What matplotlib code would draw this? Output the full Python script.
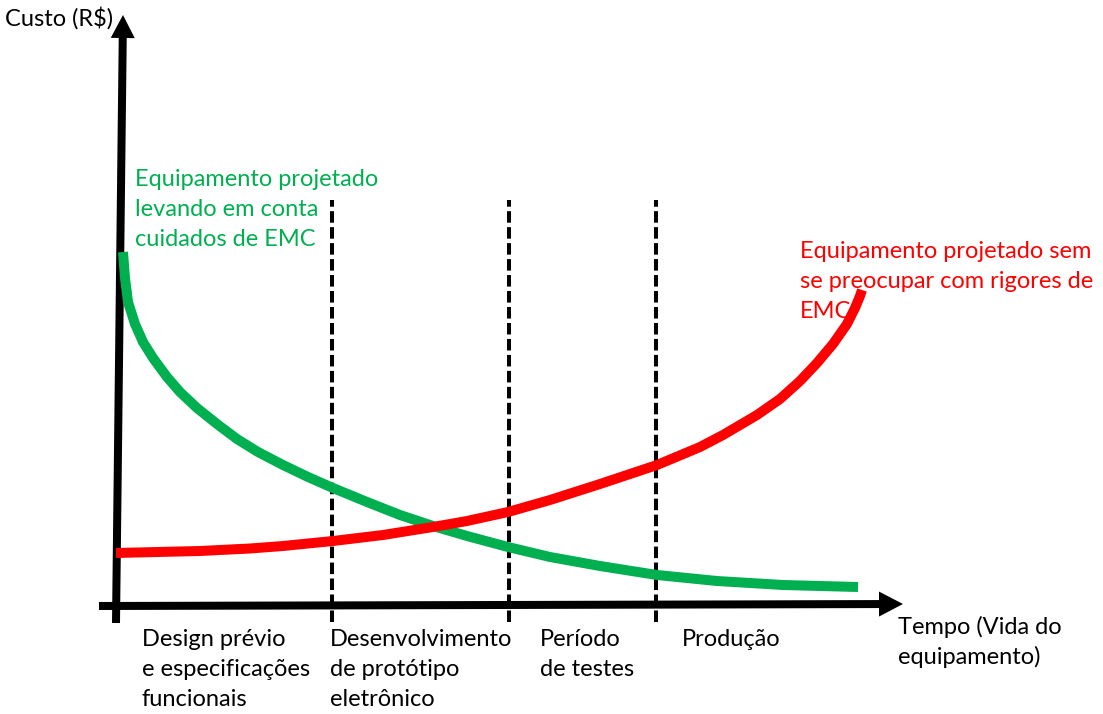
import matplotlib
matplotlib.use("Agg")
from matplotlib import pyplot as plt

plt.rcParams['font.family'] = ['Lato', 'DejaVu Sans']
plt.rcParams['lines.scale_dashes'] = False

GREEN = '#00B050'
RED = '#FF0000'

# curve with EMC care (time, cost) - origin at axes crossing
green_t = [5, 7, 10, 17, 25, 35, 49, 62, 79, 99, 119, 140, 165, 190, 215, 249, 282,
           315, 349, 390, 432, 482, 539, 599, 665, 740]
green_c = [353, 327, 303, 281, 263, 247, 228, 213, 197, 181, 166, 153, 140, 128, 117, 103, 90,
           79, 69, 58, 48, 39, 30, 24, 20, 18]

# curve without EMC care
red_t = [-2, 82, 132, 165, 215, 265, 315, 349, 390, 432, 482, 539, 582, 605,
         639, 662, 682, 699, 715, 729, 737, 742, 744]
red_c = [52, 54, 56.5, 59, 64, 70, 78, 84, 93, 105, 121, 140, 158, 170,
         190, 206, 224, 242, 261, 281, 297, 309, 315]

# phase boundaries on the time axis
phase_t = [214, 391, 538]

phase_labels = [
    ["Design prévio", "e especificações", "funcionais"],
    ["Desenvolvimento", "de protótipo", "eletrônico"],
    ["Período", "de testes"],
    ["Produção"],
]
phase_label_t = [24, 212, 422, 564]

green_label = ["Equipamento projetado", "levando em conta", "cuidados de EMC"]
red_label = ["Equipamento projetado sem", "se preocupar com rigores de", "EMC"]

fig = plt.figure(figsize=(11.03, 7.14), dpi=100)
ax = fig.add_axes([0, 0, 1, 1])
ax.set_xlim(-118, 985)
ax.set_ylim(-109, 605)
ax.axis('off')

# axes arrows
ax.arrow(-2, -18, 7, 608, width=8, head_width=24, head_length=23,
         length_includes_head=True, fc='black', ec='none', zorder=3)
ax.arrow(-19, -1, 804, 2, width=8, head_width=25, head_length=24,
         length_includes_head=True, fc='black', ec='none', zorder=3)

ax.vlines(phase_t, -17, 405, colors='black', linewidth=2.9,
          linestyles=[(0, (8.3, 3.2))], zorder=2)

ax.plot(green_t, green_c, color=GREEN, linewidth=7.2, solid_capstyle='butt',
        solid_joinstyle='round', zorder=4)
ax.plot(red_t, red_c, color=RED, linewidth=7.2, solid_capstyle='butt',
        solid_joinstyle='round', zorder=4)

fs = 17
step = 30
ax.text(-113, 587, "Custo (R$)", fontsize=fs, va='center', ha='left')
for i, line in enumerate(green_label):
    ax.text(17, 425 - i * step, line, color=GREEN, fontsize=fs, va='center')
for i, line in enumerate(red_label):
    ax.text(682, 353 - i * step, line, color=RED, fontsize=fs, va='center')
for t, lines in zip(phase_label_t, phase_labels):
    for i, line in enumerate(lines):
        ax.text(t, -35 - i * step, line, fontsize=fs, va='center')
for i, line in enumerate(["Tempo (Vida do", "equipamento)"]):
    ax.text(780, -22 - i * step, line, fontsize=fs, va='center')

fig.savefig("out.png", dpi=100)
